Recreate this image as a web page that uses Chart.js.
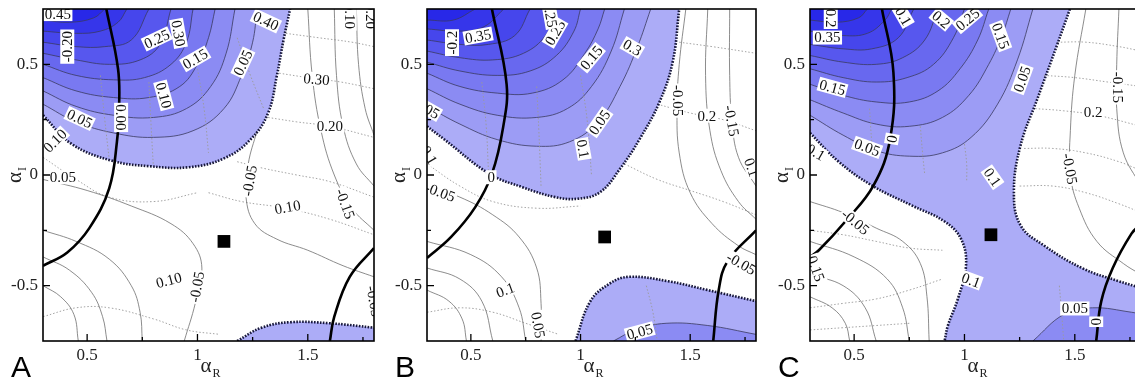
<!DOCTYPE html>
<html>
<head>
<meta charset="utf-8">
<script src="https://cdn.jsdelivr.net/npm/chart.js@4.4.0/dist/chart.umd.min.js"></script>
<style>
html, body { margin: 0; padding: 0; background: #fff; overflow: hidden; width: 1135px; height: 381px; }
.panel { position: absolute; top: 0; height: 381px; }
</style>
</head>
<body>
<div class="panel" style="left:0;width:383px"><canvas id="panelA"></canvas></div>
<div class="panel" style="left:384px;width:381px"><canvas id="panelB"></canvas></div>
<div class="panel" style="left:767px;width:383px"><canvas id="panelC"></canvas></div>
<script>
// axes
var xTickVals = [0.5, 1, 1.5];
var yTickVals = [-0.5, 0, 0.5];
var xMinorVals = [0.75, 1.25, 1.75];
var yMinorVals = [-0.25, 0.25];

// ---- panel A ----
var aEdge = [[0.3,0.27],[0.43,0.14],[0.61,0.065],[0.78,0.04],[0.96,0.035],[1.12,0.075],[1.24,0.16],[1.32,0.28],[1.36,0.45],[1.39,0.61],[1.42,0.75]];
var aLow = [[1.18,-0.75],[1.29,-0.69],[1.42,-0.665],[1.6,-0.67],[1.8,-0.69]];
var aBand1 = [[0.3,0.32],[0.45,0.24],[0.62,0.19],[0.8,0.17],[0.98,0.2],[1.12,0.3],[1.2,0.45],[1.25,0.6],[1.27,0.75]];
var aBand2 = [[0.3,0.38],[0.45,0.31],[0.62,0.27],[0.8,0.26],[0.95,0.3],[1.06,0.4],[1.13,0.55],[1.17,0.75]];
var aBand3 = [[0.3,0.44],[0.45,0.38],[0.62,0.35],[0.78,0.35],[0.92,0.4],[1.0,0.5],[1.05,0.62],[1.08,0.75]];
var aBand4 = [[0.3,0.5],[0.45,0.45],[0.62,0.43],[0.76,0.44],[0.88,0.5],[0.95,0.6],[0.98,0.75]];
var aBand5 = [[0.3,0.55],[0.45,0.52],[0.6,0.5],[0.74,0.52],[0.83,0.59],[0.88,0.75]];
var aBand6 = [[0.3,0.6],[0.45,0.58],[0.58,0.58],[0.7,0.61],[0.78,0.75]];
var aBand7 = [[0.3,0.65],[0.45,0.64],[0.56,0.65],[0.64,0.69],[0.68,0.75]];
var aBand8 = [[0.3,0.7],[0.42,0.69],[0.53,0.71],[0.58,0.75]];
var aThick1 = [[0.587,0.75],[0.64,0.48],[0.645,0.31],[0.635,0.15],[0.6,-0.06],[0.51,-0.24],[0.41,-0.35],[0.3,-0.41]];
var aThick2 = [[1.8,-0.33],[1.69,-0.46],[1.62,-0.64],[1.6,-0.75]];
var aSolid = [
  [[0.3,-0.02],[0.5,-0.07],[0.7,-0.14],[0.88,-0.22],[0.98,-0.31],[1.02,-0.42],[0.99,-0.58],[0.94,-0.75]],
  [[1.27,0.2],[1.23,0.05],[1.22,-0.1],[1.26,-0.22],[1.36,-0.29],[1.5,-0.34],[1.66,-0.41],[1.8,-0.46]],
  [[1.5,0.75],[1.52,0.45],[1.56,0.2],[1.62,0.0],[1.7,-0.15],[1.8,-0.25]],
  [[1.62,0.75],[1.63,0.45],[1.66,0.22],[1.72,0.05],[1.8,-0.05]],
  [[1.72,0.75],[1.73,0.5],[1.76,0.3],[1.8,0.18]],
  [[0.3,-0.5],[0.38,-0.55],[0.44,-0.63],[0.46,-0.75]],
  [[0.3,-0.37],[0.42,-0.43],[0.52,-0.53],[0.57,-0.64],[0.59,-0.75]],
  [[0.3,-0.25],[0.45,-0.3],[0.6,-0.38],[0.7,-0.5],[0.74,-0.62],[0.75,-0.75]]
];
var aDots = [
  [[1.4,0.64],[1.55,0.62],[1.7,0.6],[1.8,0.58]],
  [[1.37,0.46],[1.5,0.44],[1.65,0.42],[1.8,0.39]],
  [[1.32,0.26],[1.45,0.24],[1.6,0.22],[1.8,0.17]],
  [[1.18,0.06],[1.3,0.03],[1.45,0.0],[1.6,-0.03],[1.8,-0.1]],
  [[1.05,-0.08],[1.2,-0.12],[1.4,-0.15],[1.6,-0.2],[1.8,-0.27]],
  [[0.3,-0.64],[0.45,-0.6],[0.6,-0.6],[0.8,-0.65],[0.95,-0.7],[1.1,-0.72]],
  [[0.3,0.08],[0.45,-0.02],[0.6,-0.1],[0.8,-0.12],[1.0,-0.08]],
  [[0.56,0.45],[0.58,0.25],[0.6,0.07]],
  [[0.78,0.42],[0.79,0.22],[0.8,0.04]],
  [[1.0,0.48],[1.03,0.3],[1.05,0.1]],
  [[1.18,0.62],[1.24,0.45],[1.3,0.3]]
];
var aMarker = [[1.12,-0.3]];
var aLabels = [
  [0.367,0.727,'0.45',0],[0.41,0.58,'-0.20',-90],[0.816,0.615,'0.25',-25],[0.914,0.64,'0.30',80],
  [0.99,0.525,'0.15',-30],[0.847,0.36,'0.10',75],[1.206,0.507,'0.05',-65],[1.31,0.696,'0.40',25],
  [0.654,0.26,'0.00',90],[0.466,0.255,'0.05',25],[0.354,0.155,'0.10',-45],[0.39,-0.01,'0.05',0],
  [1.236,-0.025,'-0.05',-80],[1.408,-0.145,'0.10',-10],[1.67,-0.13,'-0.15',70],[1.54,0.433,'0.30',5],
  [1.6,0.223,'0.20',0],[0.87,-0.475,'0.10',-15],[0.997,-0.505,'-0.05',-80],[1.69,0.73,'-0.10',90],
  [1.785,0.73,'-0.20',90],[1.8,-0.57,'-0.05',80]
];

// ---- panel B ----
var bEdge = [[0.3,0.22],[0.376,0.163],[0.585,0.005],[0.735,-0.055],[0.885,-0.1],[0.99,-0.107],[1.09,-0.077],[1.18,0.028],[1.27,0.163],[1.36,0.33],[1.42,0.51],[1.45,0.75]];
var bLow = [[0.977,-0.75],[1.045,-0.57],[1.134,-0.49],[1.22,-0.46],[1.4,-0.48],[1.58,-0.52],[1.8,-0.57]];
var bLow2 = [[1.15,-0.75],[1.25,-0.7],[1.39,-0.67],[1.58,-0.68],[1.8,-0.72]];
var bBand1 = [[0.3,0.31],[0.45,0.23],[0.62,0.16],[0.8,0.13],[0.95,0.15],[1.08,0.24],[1.18,0.4],[1.26,0.58],[1.32,0.75]];
var bBand2 = [[0.3,0.39],[0.45,0.32],[0.62,0.27],[0.8,0.26],[0.94,0.3],[1.05,0.4],[1.14,0.56],[1.2,0.75]];
var bBand3 = [[0.3,0.46],[0.45,0.4],[0.62,0.37],[0.78,0.37],[0.92,0.43],[1.02,0.55],[1.08,0.66],[1.11,0.75]];
var bBand4 = [[0.3,0.51],[0.45,0.47],[0.62,0.45],[0.77,0.47],[0.89,0.54],[0.97,0.65],[1.0,0.75]];
var bBand5 = [[0.3,0.56],[0.45,0.53],[0.6,0.52],[0.74,0.55],[0.84,0.63],[0.89,0.75]];
var bBand6 = [[0.3,0.61],[0.45,0.59],[0.58,0.59],[0.7,0.63],[0.77,0.75]];
var bBand7 = [[0.3,0.66],[0.45,0.65],[0.56,0.67],[0.65,0.75]];
var bBand8 = [[0.3,0.7],[0.42,0.7],[0.52,0.75]];
var bThick1 = [[0.596,0.75],[0.663,0.41],[0.647,0.215],[0.596,0.005],[0.52,-0.145],[0.41,-0.28],[0.3,-0.375]];
var bThick2 = [[1.8,-0.25],[1.67,-0.39],[1.63,-0.52],[1.605,-0.75]];
var bSolid = [
  [[0.3,-0.05],[0.45,-0.1],[0.6,-0.18],[0.72,-0.28],[0.8,-0.42],[0.82,-0.58],[0.82,-0.75]],
  [[1.48,0.75],[1.45,0.5],[1.44,0.3],[1.45,0.1],[1.5,-0.08],[1.6,-0.22],[1.72,-0.32],[1.8,-0.36]],
  [[1.68,0.75],[1.68,0.45],[1.69,0.25],[1.72,0.08],[1.8,-0.05]],
  [[1.58,0.75],[1.57,0.45],[1.59,0.2],[1.64,0.02],[1.72,-0.12],[1.8,-0.2]],
  [[0.3,-0.52],[0.4,-0.57],[0.46,-0.65],[0.48,-0.75]],
  [[0.3,-0.42],[0.45,-0.47],[0.55,-0.57],[0.6,-0.75]],
  [[0.3,-0.3],[0.5,-0.36],[0.64,-0.46],[0.72,-0.6],[0.75,-0.75]]
];
var bDots = [
  [[1.45,0.6],[1.6,0.58],[1.8,0.55]],
  [[1.35,0.32],[1.5,0.28],[1.65,0.25],[1.8,0.2]],
  [[1.2,0.05],[1.35,-0.02],[1.5,-0.07],[1.65,-0.12],[1.8,-0.18]],
  [[0.3,-0.62],[0.45,-0.6],[0.6,-0.62],[0.75,-0.67],[0.9,-0.72]],
  [[0.3,0.05],[0.45,-0.05],[0.6,-0.12],[0.8,-0.15],[1.0,-0.14]],
  [[0.55,0.42],[0.57,0.22],[0.58,0.02]],
  [[0.8,0.4],[0.81,0.2],[0.82,-0.05]],
  [[1.0,0.45],[1.03,0.25],[1.05,0.0]],
  [[1.3,-0.5],[1.33,-0.62],[1.35,-0.75]]
];
var bMarker = [[1.11,-0.28]];
var bLabels = [
  [0.414,0.598,'-0.2',-90],[0.533,0.628,'0.35',-10],[0.884,0.643,'0.25',-60],[0.862,0.726,'0.25',80],
  [1.049,0.53,'0.15',-50],[1.236,0.576,'0.3',30],[1.086,0.238,'0.05',-55],[1.011,0.118,'0.1',80],
  [0.593,-0.01,'0',0],[0.3,0.3,'0.05',30],[0.31,0.09,'0.1',60],[0.36,-0.077,'-0.05',20],
  [1.442,0.336,'-0.05',90],[1.576,0.268,'0.2',0],[1.689,0.245,'-0.15',80],[1.78,0.035,'0.1',70],
  [1.733,-0.4,'-0.05',30],[0.657,-0.52,'0.1',-20],[0.807,-0.678,'0.05',80],[1.27,-0.708,'0.05',-15]
];

// ---- panel C ----
var cEdgeL = [[0.3,0.19],[0.43,0.06],[0.58,-0.047],[0.76,-0.137],[0.91,-0.21],[0.985,-0.29],[1.007,-0.41],[0.97,-0.56],[0.925,-0.68],[0.91,-0.75]];
var cEdgeR = [[1.478,0.75],[1.418,0.583],[1.33,0.343],[1.254,0.133],[1.224,-0.077],[1.254,-0.227],[1.358,-0.317],[1.538,-0.423],[1.7,-0.48],[1.8,-0.51]];
var cLow = [[1.31,-0.75],[1.45,-0.63],[1.58,-0.6],[1.757,-0.62],[1.8,-0.63]];
var cBand1 = [[0.3,0.27],[0.45,0.18],[0.6,0.11],[0.75,0.085],[0.9,0.1],[1.03,0.17],[1.15,0.32],[1.24,0.52],[1.31,0.75]];
var cBand2 = [[0.3,0.34],[0.45,0.28],[0.6,0.23],[0.75,0.22],[0.9,0.26],[1.02,0.36],[1.11,0.5],[1.17,0.63],[1.21,0.75]];
var cBand3 = [[0.3,0.41],[0.45,0.36],[0.6,0.33],[0.75,0.33],[0.88,0.38],[0.98,0.48],[1.06,0.61],[1.11,0.75]];
var cBand4 = [[0.3,0.48],[0.45,0.44],[0.6,0.42],[0.74,0.44],[0.86,0.5],[0.95,0.62],[1.0,0.75]];
var cBand5 = [[0.3,0.54],[0.45,0.51],[0.6,0.5],[0.72,0.53],[0.82,0.61],[0.88,0.75]];
var cBand6 = [[0.3,0.59],[0.45,0.57],[0.58,0.57],[0.7,0.62],[0.77,0.75]];
var cBand7 = [[0.3,0.65],[0.45,0.63],[0.56,0.64],[0.64,0.7],[0.67,0.75]];
var cBand8 = [[0.3,0.7],[0.42,0.69],[0.52,0.71],[0.56,0.75]];
var cThick1 = [[0.626,0.75],[0.678,0.463],[0.663,0.163],[0.588,-0.047],[0.46,-0.21],[0.34,-0.34],[0.3,-0.37]];
var cThick2 = [[1.8,-0.22],[1.757,-0.265],[1.672,-0.42],[1.62,-0.57],[1.597,-0.75]];
var cSolid = [
  [[1.7,0.75],[1.69,0.5],[1.69,0.3],[1.72,0.1],[1.8,-0.05]],
  [[1.55,0.75],[1.5,0.45],[1.48,0.2],[1.48,0.0],[1.52,-0.15],[1.6,-0.3],[1.72,-0.4],[1.8,-0.45]],
  [[0.3,-0.55],[0.4,-0.6],[0.46,-0.67],[0.48,-0.75]],
  [[0.3,-0.45],[0.45,-0.5],[0.55,-0.6],[0.6,-0.75]],
  [[0.3,-0.3],[0.5,-0.37],[0.65,-0.47],[0.72,-0.6],[0.75,-0.75]],
  [[0.3,-0.12],[0.45,-0.17],[0.6,-0.24],[0.72,-0.3],[0.8,-0.4],[0.83,-0.55],[0.84,-0.75]]
];
var cDots = [
  [[1.42,0.6],[1.55,0.6],[1.7,0.58],[1.8,0.56]],
  [[1.36,0.45],[1.5,0.44],[1.65,0.42],[1.8,0.4]],
  [[1.32,0.3],[1.45,0.29],[1.6,0.27],[1.8,0.22]],
  [[1.27,0.12],[1.4,0.12],[1.55,0.1],[1.7,0.06],[1.8,0.02]],
  [[1.25,-0.05],[1.4,-0.05],[1.55,-0.08],[1.7,-0.13],[1.8,-0.17]],
  [[0.3,-0.6],[0.45,-0.58],[0.6,-0.56],[0.75,-0.52],[0.9,-0.47]],
  [[0.3,-0.25],[0.45,-0.27],[0.6,-0.3],[0.75,-0.33],[0.9,-0.34]],
  [[0.3,-0.7],[0.45,-0.69],[0.6,-0.68],[0.75,-0.67]],
  [[0.57,0.3],[0.58,0.15],[0.59,0.08]],
  [[0.8,0.22],[0.81,0.1],[0.82,0.0]],
  [[1.0,0.14],[1.01,0.05],[1.01,-0.03]],
  [[1.43,-0.5],[1.44,-0.62],[1.45,-0.75]]
];
var cMarker = [[1.12,-0.27]];
var cLabels = [
  [0.394,0.72,'-0.2',90],[0.379,0.621,'0.35',0],[0.402,0.396,'0.15',15],[0.559,0.125,'0.05',20],
  [0.671,0.163,'0',-80],[0.723,0.718,'0.1',60],[0.895,0.703,'0.2',40],[1.014,0.703,'0.25',-40],
  [1.164,0.628,'0.15',70],[1.261,0.433,'0.05',-70],[1.127,-0.01,'0.1',55],[1.03,-0.475,'0.1',20],
  [1.5,-0.603,'0.05',0],[1.597,-0.663,'0',90],[0.506,-0.212,'-0.05',40],[0.327,0.103,'0.1',30],
  [0.327,-0.423,'0.15',70],[1.695,0.396,'-0.15',90],[1.583,0.283,'0.2',0],[1.478,0.028,'-0.05',80]
];

var bandColors = ['#acacf7', '#9c9cf5', '#8b8bf3', '#7979f1', '#6868ef', '#5757ee', '#4646ec', '#3636ea', '#2828e8'];

function toXY(a) {
  return a.map(function (p) { return {x: p[0], y: p[1]}; });
}

function lineSet(a, color, width, dash, order) {
  return {data: toXY(a), showLine: true, pointRadius: 0, tension: 0.4, borderColor: color,
    borderWidth: width, borderDash: dash, fill: false, order: order};
}

// fills the area between a curve and one corner of the plot
var regionPlugin = {
  id: 'regions',
  beforeDatasetsDraw: function (chart, args, opts) {
    var ctx = chart.ctx, a = chart.chartArea;
    ctx.save();
    ctx.beginPath();
    ctx.rect(a.left, a.top, a.right - a.left, a.bottom - a.top);
    ctx.clip();
    ctx.fillStyle = opts.base;
    ctx.fillRect(a.left, a.top, a.right - a.left, a.bottom - a.top);
    chart.data.datasets.forEach(function (d, i) {
      if (!d.region) return;
      var el = chart.getDatasetMeta(i).dataset;
      el.updateControlPoints(a, 'x');
      ctx.beginPath();
      el.path(ctx);
      var c = d.region.corner;
      ctx.lineTo(c.indexOf('l') >= 0 ? a.left - 2 : a.right + 2, c.indexOf('t') >= 0 ? a.top - 2 : a.bottom + 2);
      ctx.closePath();
      ctx.fillStyle = d.region.color;
      ctx.fill();
    });
    ctx.restore();
  },
  afterDatasetsDraw: function (chart, args, opts) {
    var ctx = chart.ctx, a = chart.chartArea, xs = chart.scales.x, ys = chart.scales.y;
    ctx.save();
    ctx.beginPath();
    ctx.rect(a.left, a.top, a.right - a.left, a.bottom - a.top);
    ctx.clip();
    ctx.font = '15px "Liberation Serif"';
    ctx.textAlign = 'center';
    ctx.textBaseline = 'middle';
    opts.labels.forEach(function (l) {
      var px = xs.getPixelForValue(l[0]), py = ys.getPixelForValue(l[1]);
      ctx.save();
      ctx.translate(px, py);
      ctx.rotate(l[3] * Math.PI / 180);
      var w = ctx.measureText(l[2]).width;
      ctx.fillStyle = '#fff';
      ctx.fillRect(-w / 2 - 1.5, -7, w + 3, 14);
      ctx.fillStyle = '#111';
      ctx.fillText(l[2], 0, 1);
      ctx.restore();
    });
    ctx.restore();

    // frame and inward ticks
    ctx.save();
    ctx.strokeStyle = '#000';
    ctx.lineWidth = 1.6;
    ctx.strokeRect(a.left, a.top, a.right - a.left, a.bottom - a.top);
    ctx.lineWidth = 1.3;
    ctx.beginPath();
    xTickVals.forEach(function (v) { var p = xs.getPixelForValue(v); ctx.moveTo(p, a.bottom); ctx.lineTo(p, a.bottom - 7); });
    xMinorVals.forEach(function (v) { var p = xs.getPixelForValue(v); ctx.moveTo(p, a.bottom); ctx.lineTo(p, a.bottom - 4); });
    yTickVals.forEach(function (v) { var p = ys.getPixelForValue(v); ctx.moveTo(a.left, p); ctx.lineTo(a.left + 7, p); });
    yMinorVals.forEach(function (v) { var p = ys.getPixelForValue(v); ctx.moveTo(a.left, p); ctx.lineTo(a.left + 4, p); });
    ctx.stroke();

    // axis titles
    ctx.fillStyle = '#222';
    ctx.textBaseline = 'alphabetic';
    ctx.textAlign = 'left';
    var cx = (a.left + a.right) / 2;
    ctx.font = '21px "Liberation Serif"';
    ctx.fillText('\u03b1', cx - 8, 372);
    ctx.font = '12px "Liberation Serif"';
    ctx.fillText('R', cx + 4, 377);
    ctx.save();
    ctx.translate(21, (a.top + a.bottom) / 2);
    ctx.rotate(-Math.PI / 2);
    ctx.font = '21px "Liberation Serif"';
    ctx.fillText('\u03b1', -8, 0);
    ctx.font = '12px "Liberation Serif"';
    ctx.fillText('I', 4, 5);
    ctx.restore();

    // panel letter
    ctx.fillStyle = '#000';
    ctx.font = '30px "Liberation Sans"';
    ctx.fillText(opts.letter, a.left - 32, 377);
    ctx.restore();
  }
};

function noPad(s) {
  s.paddingLeft = 0; s.paddingRight = 0; s.paddingTop = 0; s.paddingBottom = 0;
}

function makePanel(id, p) {
  var ds = [];
  p.regions.forEach(function (r) {
    var d;
    if (r.kind === 'edge') d = lineSet(r.pts, '#17173a', 2.6, [1.6, 1.4], 2);
    else d = lineSet(r.pts, '#3a3a60', 0.8, [], 5);
    d.region = r;
    ds.push(d);
  });
  p.dots.forEach(function (a) { ds.push(lineSet(a, '#9a9a9a', 0.9, [1.5, 2], 4)); });
  p.solid.forEach(function (a) { ds.push(lineSet(a, '#6e6e6e', 0.8, [], 3)); });
  p.thick.forEach(function (a) { ds.push(lineSet(a, '#000', 2.6, [], 1)); });
  ds.push({data: toXY(p.marker), showLine: false, pointStyle: 'rect', pointRadius: 9,
    backgroundColor: '#000', borderColor: '#000', borderWidth: 0, order: 0});

  return new Chart(document.getElementById(id), {
    type: 'scatter',
    data: {datasets: ds},
    plugins: [regionPlugin],
    options: {
      responsive: true,
      maintainAspectRatio: false,
      animation: false,
      events: [],
      layout: {padding: {top: 8, right: 2, left: 0, bottom: 0}},
      plugins: {
        legend: {display: false},
        tooltip: {enabled: false},
        regions: {base: p.base, labels: p.labels, letter: p.letter}
      },
      scales: {
        x: {
          type: 'linear', min: 0.3, max: 1.8,
          grid: {display: false, drawTicks: false},
          border: {display: false},
          ticks: {color: '#222', font: {family: 'Liberation Serif', size: 17}, padding: 4, maxRotation: 0,
            callback: function (v) { return String(v); }},
          afterBuildTicks: function (s) { s.ticks = xTickVals.map(function (v) { return {value: v}; }); },
          afterFit: function (s) { s.height = 40; noPad(s); }
        },
        y: {
          type: 'linear', min: -0.75, max: 0.75,
          grid: {display: false, drawTicks: false},
          border: {display: false},
          ticks: {color: '#222', font: {family: 'Liberation Serif', size: 17}, padding: 5,
            callback: function (v) { return String(v); }},
          afterBuildTicks: function (s) { s.ticks = yTickVals.map(function (v) { return {value: v}; }); },
          afterFit: function (s) { s.width = 43; noPad(s); }
        }
      }
    }
  });
}

function bandRegions(list) {
  return list.map(function (pts, i) { return {pts: pts, color: bandColors[i + 1], corner: 'tl', kind: 'band'}; });
}

makePanel('panelA', {
  letter: 'A', base: '#fff',
  regions: [{pts: aEdge, color: bandColors[0], corner: 'tl', kind: 'edge'},
            {pts: aLow, color: bandColors[0], corner: 'br', kind: 'edge'}]
    .concat(bandRegions([aBand1, aBand2, aBand3, aBand4, aBand5, aBand6, aBand7, aBand8])),
  solid: aSolid, dots: aDots, thick: [aThick1, aThick2], marker: aMarker, labels: aLabels
});

makePanel('panelB', {
  letter: 'B', base: '#fff',
  regions: [{pts: bEdge, color: bandColors[0], corner: 'tl', kind: 'edge'},
            {pts: bLow, color: bandColors[0], corner: 'br', kind: 'edge'},
            {pts: bLow2, color: bandColors[2], corner: 'br', kind: 'band'}]
    .concat(bandRegions([bBand1, bBand2, bBand3, bBand4, bBand5, bBand6, bBand7, bBand8])),
  solid: bSolid, dots: bDots, thick: [bThick1, bThick2], marker: bMarker, labels: bLabels
});

makePanel('panelC', {
  letter: 'C', base: bandColors[0],
  regions: [{pts: cEdgeL, color: '#fff', corner: 'bl', kind: 'edge'},
            {pts: cEdgeR, color: '#fff', corner: 'tr', kind: 'edge'},
            {pts: cLow, color: bandColors[2], corner: 'br', kind: 'band'}]
    .concat(bandRegions([cBand1, cBand2, cBand3, cBand4, cBand5, cBand6, cBand7, cBand8])),
  solid: cSolid, dots: cDots, thick: [cThick1, cThick2], marker: cMarker, labels: cLabels
});
</script>
</body>
</html>
